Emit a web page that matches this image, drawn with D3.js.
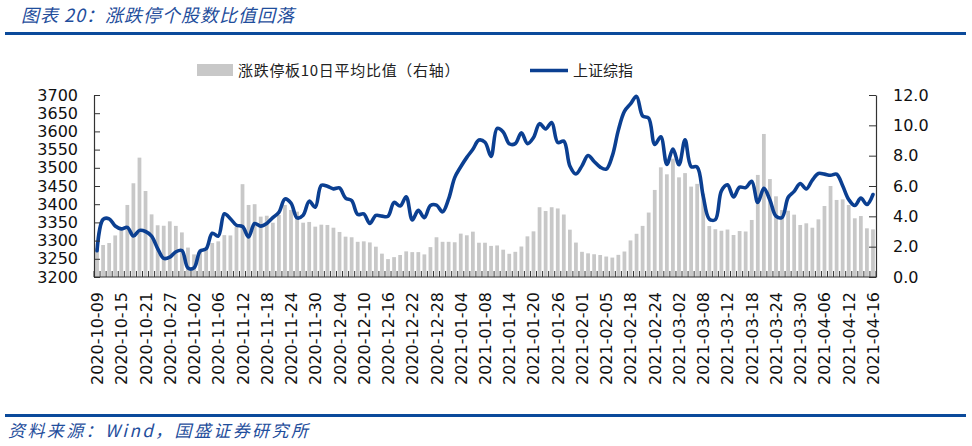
<!DOCTYPE html>
<html>
<head>
<meta charset="utf-8">
<script src="https://cdn.jsdelivr.net/npm/d3@7"></script>
<style>
  html, body { margin: 0; padding: 0; background: #fff; }
  svg { display: block; }
</style>
</head>
<body>
<svg id="chart" width="972" height="446"></svg>
<script>
// ---------------- data ----------------
const dates = [
  "2020-10-09","2020-10-12","2020-10-13","2020-10-14","2020-10-15","2020-10-16","2020-10-19","2020-10-20","2020-10-21","2020-10-22",
  "2020-10-23","2020-10-26","2020-10-27","2020-10-28","2020-10-29","2020-10-30","2020-11-02","2020-11-03","2020-11-04","2020-11-05",
  "2020-11-06","2020-11-09","2020-11-10","2020-11-11","2020-11-12","2020-11-13","2020-11-16","2020-11-17","2020-11-18","2020-11-19",
  "2020-11-20","2020-11-23","2020-11-24","2020-11-25","2020-11-26","2020-11-27","2020-11-30","2020-12-01","2020-12-02","2020-12-03",
  "2020-12-04","2020-12-07","2020-12-08","2020-12-09","2020-12-10","2020-12-11","2020-12-14","2020-12-15","2020-12-16","2020-12-17",
  "2020-12-18","2020-12-21","2020-12-22","2020-12-23","2020-12-24","2020-12-25","2020-12-28","2020-12-29","2020-12-30","2020-12-31",
  "2021-01-04","2021-01-05","2021-01-06","2021-01-07","2021-01-08","2021-01-11","2021-01-12","2021-01-13","2021-01-14","2021-01-15",
  "2021-01-18","2021-01-19","2021-01-20","2021-01-21","2021-01-22","2021-01-25","2021-01-26","2021-01-27","2021-01-28","2021-01-29",
  "2021-02-01","2021-02-02","2021-02-03","2021-02-04","2021-02-05","2021-02-08","2021-02-09","2021-02-10","2021-02-18","2021-02-19",
  "2021-02-22","2021-02-23","2021-02-24","2021-02-25","2021-02-26","2021-03-01","2021-03-02","2021-03-03","2021-03-04","2021-03-05",
  "2021-03-08","2021-03-09","2021-03-10","2021-03-11","2021-03-12","2021-03-15","2021-03-16","2021-03-17","2021-03-18","2021-03-19",
  "2021-03-22","2021-03-23","2021-03-24","2021-03-25","2021-03-26","2021-03-29","2021-03-30","2021-03-31","2021-04-01","2021-04-02",
  "2021-04-06","2021-04-07","2021-04-08","2021-04-09","2021-04-12","2021-04-13","2021-04-14","2021-04-15","2021-04-16"
];

// 上证综指 (left axis)
const sseIndex = [
  3272.08,3358.47,3359.75,3340.08,3332.18,3336.36,3312.50,3328.10,3325.03,3312.16,
  3278.00,3251.12,3254.32,3269.24,3272.74,3224.53,3225.12,3271.07,3277.44,3320.13,
  3312.16,3373.73,3360.15,3342.20,3338.68,3310.10,3346.97,3339.90,3347.30,3363.09,
  3377.73,3414.49,3402.82,3362.33,3369.73,3408.31,3391.76,3451.94,3449.38,3442.14,
  3444.58,3416.60,3410.18,3371.96,3373.28,3347.19,3369.12,3367.23,3366.98,3404.87,
  3394.90,3420.57,3356.78,3382.99,3363.11,3396.56,3397.29,3379.04,3414.45,3473.07,
  3502.96,3528.68,3550.88,3576.20,3570.11,3531.50,3608.34,3598.65,3565.90,3566.38,
  3596.22,3566.38,3583.09,3621.26,3606.75,3624.24,3569.43,3573.34,3505.18,3483.07,
  3505.28,3533.68,3517.31,3501.86,3496.33,3532.71,3603.49,3655.09,3675.36,3696.17,
  3642.44,3636.36,3564.08,3585.05,3509.08,3551.40,3508.59,3576.90,3503.49,3501.99,
  3421.41,3359.29,3357.74,3436.83,3453.08,3419.95,3446.73,3445.55,3463.07,3404.66,
  3443.44,3411.51,3367.06,3363.59,3418.33,3435.30,3457.07,3441.91,3466.33,3484.39,
  3482.55,3479.63,3482.48,3450.68,3412.95,3396.47,3416.75,3398.99,3426.62
];

// 涨跌停板10日平均比值 (right axis)
const limitRatio = [
  1.90,2.11,2.24,2.74,3.10,4.75,6.18,7.87,5.67,4.13,
  3.41,3.38,3.67,3.37,2.94,1.94,1.49,1.70,1.90,2.24,
  2.35,2.76,2.74,3.30,6.12,4.75,4.80,3.98,4.04,3.58,
  4.09,4.75,4.42,4.31,3.58,3.63,3.32,3.45,3.43,3.25,
  2.97,2.66,2.62,2.32,2.35,2.28,2.00,1.54,1.18,1.31,
  1.45,1.69,1.64,1.64,1.49,1.97,2.62,2.32,2.32,2.29,
  2.86,2.75,2.99,2.26,2.26,2.05,2.08,1.80,1.53,1.66,
  2.01,2.68,3.01,4.60,4.35,4.60,4.52,4.12,3.12,2.27,
  1.66,1.56,1.50,1.45,1.35,1.28,1.46,1.68,2.41,2.85,
  3.37,4.25,5.74,7.23,6.77,7.80,6.57,6.85,5.96,6.14,
  5.50,3.36,3.15,3.05,3.13,2.77,3.03,3.00,3.76,6.73,
  9.43,6.46,5.32,4.42,4.37,4.11,3.43,3.54,3.25,3.80,
  4.68,6.00,5.08,5.12,4.75,3.87,4.02,3.21,3.14
];

const leftTicks = [3200,3250,3300,3350,3400,3450,3500,3550,3600,3650,3700];
const rightTicks = [0,2,4,6,8,10,12];
const xLabelDates = dates.filter((d, i) => i % 4 === 0);

const titleText = "图表 20：涨跌停个股数比值回落";
const sourceText = "资料来源：Wind，国盛证券研究所";
const legendBarText = "涨跌停板10日平均比值（右轴）";
const legendLineText = "上证综指";

// ---------------- layout ----------------
const plot = { left: 94, right: 876, top: 95, bottom: 277 };
const blue = "#0b3f91";
const titleBlue = "#1f4e9c";
const barGrey = "#c8c8c8";
const latinFont = "'DejaVu Sans', Verdana, sans-serif";
const cjkFont = "'Noto Sans CJK SC', 'Noto Sans', sans-serif";

const svg = d3.select("#chart");

const x = d3.scaleBand().domain(dates).range([plot.left, plot.right]).padding(0);
const yL = d3.scaleLinear().domain([3200, 3700]).range([plot.bottom, plot.top]);
const yR = d3.scaleLinear().domain([0, 12]).range([plot.bottom, plot.top]);
const bw = x.bandwidth();
const barW = bw * 0.62;

// title
svg.append("text")
  .attr("x", 21).attr("y", 22)
  .attr("font-family", cjkFont).attr("font-size", 18)
  .attr("font-style", "italic")
  .attr("letter-spacing", 1)
  .attr("fill", titleBlue)
  .text(titleText);
svg.append("rect").attr("x", 5).attr("y", 32).attr("width", 961).attr("height", 3).attr("fill", "#0b4a9b");

// bottom rule + source
svg.append("rect").attr("x", 5).attr("y", 414).attr("width", 961).attr("height", 3).attr("fill", "#0b4a9b");
svg.append("text")
  .attr("x", 8).attr("y", 437)
  .attr("font-family", cjkFont).attr("font-size", 17)
  .attr("font-style", "italic")
  .attr("letter-spacing", 2.4)
  .attr("fill", titleBlue)
  .text(sourceText);

// bars
svg.append("g").selectAll("rect")
  .data(dates.map((d, i) => ({ d, v: limitRatio[i] })))
  .join("rect")
  .attr("x", p => x(p.d) + (bw - barW) / 2)
  .attr("y", p => yR(p.v))
  .attr("width", barW)
  .attr("height", p => yR(0) - yR(p.v))
  .attr("fill", barGrey);

// line
const line = d3.line()
  .x((v, i) => x(dates[i]) + bw / 2)
  .y(v => yL(v))
  .curve(d3.curveCatmullRom.alpha(0.5));
svg.append("path")
  .datum(sseIndex)
  .attr("d", line)
  .attr("fill", "none")
  .attr("stroke", blue)
  .attr("stroke-width", 3.6)
  .attr("stroke-linejoin", "round")
  .attr("stroke-linecap", "round");

// left axis
const axL = svg.append("g").attr("transform", `translate(${plot.left},0)`)
  .call(d3.axisLeft(yL).tickValues(leftTicks).tickSizeInner(-6).tickSizeOuter(0).tickPadding(16).tickFormat(d3.format("d")));
axL.select(".domain").attr("stroke", "#333").attr("stroke-width", 1.2);
axL.selectAll(".tick line").attr("stroke", "#333");
axL.selectAll("text").attr("font-family", latinFont).attr("font-size", 16).attr("fill", "#111");

// right axis
const axR = svg.append("g").attr("transform", `translate(${plot.right},0)`)
  .call(d3.axisRight(yR).tickValues(rightTicks).tickSizeInner(-7).tickSizeOuter(0).tickPadding(17).tickFormat(d3.format(".1f")));
axR.select(".domain").attr("stroke", "#333").attr("stroke-width", 1.2);
axR.selectAll(".tick line").attr("stroke", "#333");
axR.selectAll("text").attr("font-family", latinFont).attr("font-size", 16).attr("fill", "#111");

// bottom axis
const axB = svg.append("g").attr("transform", `translate(0,${plot.bottom})`);
axB.append("line").attr("x1", plot.left).attr("x2", plot.right).attr("y1", 0).attr("y2", 0)
  .attr("stroke", "#333").attr("stroke-width", 1.2);
axB.selectAll("line.tk")
  .data(dates.concat(["__end"]))
  .join("line")
  .attr("class", "tk")
  .attr("x1", (d, i) => i < dates.length ? x(d) : plot.right)
  .attr("x2", (d, i) => i < dates.length ? x(d) : plot.right)
  .attr("y1", 0).attr("y2", -6)
  .attr("stroke", "#333").attr("stroke-width", 1);
axB.selectAll("text")
  .data(xLabelDates)
  .join("text")
  .attr("transform", d => `translate(${x(d) + bw / 2 + 6},15) rotate(-90)`)
  .attr("text-anchor", "end")
  .attr("font-family", latinFont).attr("font-size", 16)
  .attr("fill", "#111")
  .text(d => d);

// legend
const lg = svg.append("g");
lg.append("rect").attr("x", 197).attr("y", 64).attr("width", 36).attr("height", 12).attr("fill", barGrey);
lg.append("text").attr("x", 238).attr("y", 76)
  .attr("font-family", cjkFont).attr("font-size", 15).attr("letter-spacing", 0.7).attr("fill", "#222")
  .text(legendBarText);
lg.append("line").attr("x1", 530).attr("x2", 568).attr("y1", 70.5).attr("y2", 70.5)
  .attr("stroke", blue).attr("stroke-width", 3.5);
lg.append("text").attr("x", 573).attr("y", 76)
  .attr("font-family", cjkFont).attr("font-size", 15).attr("fill", "#222")
  .text(legendLineText);
</script>
</body>
</html>
